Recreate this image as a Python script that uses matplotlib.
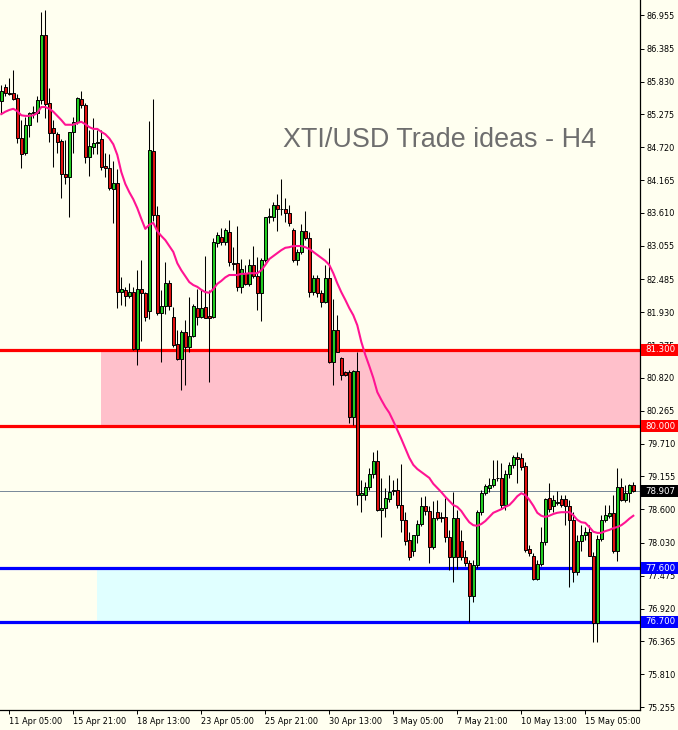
import matplotlib
matplotlib.use('Agg')
import matplotlib.pyplot as plt
from matplotlib.patches import Rectangle
import matplotlib.transforms as mtransforms

# ---- data (H4 candles) ----
opens = [85.50, 85.74, 85.64, 85.64, 85.55, 84.87, 84.62, 85.10, 85.30, 85.30,
         85.52, 86.62, 85.47, 85.04, 84.94, 84.83, 84.27, 84.21, 84.98, 85.15,
         85.54, 85.44, 84.55, 84.72, 84.79, 84.86, 84.40, 84.37, 84.02, 84.12,
         82.27, 82.31, 82.21, 82.27, 81.31, 82.33, 82.26, 81.95, 84.66, 83.57,
         81.92, 82.04, 82.42, 81.85, 81.39, 81.14, 81.60, 81.34, 81.53, 82.00,
         81.85, 82.02, 81.87, 81.85, 83.10, 83.20, 83.12, 83.29, 82.76, 82.76,
         82.36, 82.59, 82.41, 82.73, 82.54, 82.26, 82.81, 83.54, 83.54, 83.74,
         83.68, 83.68, 83.61, 83.32, 82.81, 82.95, 83.30, 83.19, 82.27, 82.51,
         82.26, 82.10, 82.51, 81.09, 81.63, 81.16, 80.92, 80.92, 80.16, 80.94,
         78.84, 78.84, 78.97, 79.20, 79.42, 78.59, 78.62, 78.77, 78.91, 78.92,
         78.67, 78.42, 78.08, 77.89, 78.16, 78.35, 78.66, 78.57, 77.96, 78.55,
         78.47, 78.47, 78.13, 77.79, 78.45, 78.06, 77.79, 77.69, 77.13, 77.66,
         78.55, 78.87, 78.96, 79.01, 79.13, 79.13, 78.67, 79.20, 79.35, 79.48,
         79.47, 79.33, 77.93, 77.81, 77.42, 77.67, 78.05, 78.79, 78.66, 78.71,
         78.77, 78.77, 78.66, 78.42, 77.54, 78.06, 78.16, 78.21, 77.81, 76.68,
         78.10, 78.42, 78.49, 78.54, 77.89, 78.97, 78.76, 78.87, 79.01]
highs = [85.78, 85.79, 85.89, 86.03, 85.62, 85.18, 85.23, 85.32, 85.42, 85.59,
         87.01, 87.04, 85.72, 85.18, 84.98, 84.86, 84.84, 84.98, 85.23, 85.57,
         85.67, 85.47, 85.01, 85.21, 85.01, 85.01, 84.62, 84.60, 84.48, 84.35,
         82.52, 82.36, 82.42, 82.36, 82.64, 82.81, 82.27, 85.16, 85.54, 83.73,
         82.31, 82.78, 82.47, 82.02, 81.63, 81.63, 81.80, 82.19, 82.07, 82.32,
         82.31, 82.88, 82.31, 83.19, 83.29, 83.35, 83.35, 83.49, 83.03, 83.39,
         82.83, 82.73, 82.83, 83.05, 82.86, 82.85, 83.54, 83.69, 83.79, 83.93,
         84.18, 83.86, 83.74, 83.35, 83.00, 83.42, 83.64, 83.29, 82.56, 82.56,
         82.31, 82.73, 83.02, 82.15, 81.88, 81.17, 80.94, 80.95, 80.95, 81.26,
         79.09, 79.06, 79.30, 79.57, 79.60, 79.13, 78.96, 79.18, 79.09, 79.13,
         79.36, 78.55, 78.21, 78.08, 78.42, 78.81, 78.83, 78.66, 78.74, 78.76,
         78.55, 78.79, 78.25, 78.89, 78.59, 78.25, 77.91, 77.74, 77.74, 78.59,
         78.92, 79.03, 79.13, 79.43, 79.43, 79.38, 79.26, 79.40, 79.52, 79.57,
         79.55, 79.40, 78.00, 77.86, 77.74, 78.30, 78.79, 79.04, 78.84, 78.91,
         78.84, 78.84, 78.76, 78.55, 78.16, 78.33, 78.30, 78.33, 77.88, 78.16,
         78.50, 78.67, 78.67, 78.84, 79.30, 79.13, 79.01, 79.03, 79.06]
lows = [85.30, 85.59, 85.61, 85.52, 84.79, 84.37, 84.59, 84.89, 85.21, 85.15,
        85.45, 85.21, 84.81, 84.39, 84.62, 83.86, 84.09, 83.54, 84.62, 85.11,
        85.38, 84.46, 84.23, 84.60, 84.60, 84.33, 84.21, 84.00, 83.44, 82.00,
        82.06, 82.03, 82.17, 81.29, 81.04, 81.44, 81.78, 81.81, 83.47, 81.88,
        81.09, 81.90, 81.97, 81.34, 81.12, 80.62, 80.70, 81.26, 81.51, 81.71,
        81.83, 81.83, 80.75, 81.83, 83.03, 83.07, 83.07, 82.71, 82.64, 82.29,
        82.26, 82.39, 82.37, 82.51, 81.97, 81.78, 82.78, 83.44, 83.47, 83.30,
        83.57, 83.46, 83.39, 82.78, 82.73, 82.91, 83.15, 82.19, 82.22, 82.19,
        82.02, 82.09, 81.07, 80.70, 81.26, 80.78, 80.85, 80.06, 80.02, 78.67,
        78.55, 78.76, 78.92, 79.13, 78.57, 78.13, 78.47, 78.72, 78.84, 78.62,
        78.21, 78.00, 77.74, 77.81, 78.03, 78.32, 78.50, 77.69, 77.93, 78.42,
        78.38, 78.05, 77.57, 77.37, 77.59, 77.74, 77.64, 76.69, 77.03, 77.61,
        78.50, 78.84, 78.89, 78.97, 79.08, 78.62, 78.59, 79.13, 79.30, 79.04,
        79.26, 77.88, 77.81, 77.40, 77.40, 77.64, 78.00, 78.55, 78.55, 78.67,
        78.64, 78.33, 77.29, 77.37, 77.49, 77.89, 78.08, 77.81, 76.36, 76.36,
        78.06, 78.38, 78.45, 77.86, 77.72, 78.74, 78.72, 78.72, 78.89]
closes = [85.67, 85.64, 85.62, 85.54, 84.87, 84.60, 85.10, 85.30, 85.32, 85.52,
          86.62, 85.45, 84.96, 84.96, 84.81, 84.27, 84.21, 84.98, 85.15, 85.55,
          85.44, 84.55, 84.74, 84.79, 84.81, 84.39, 84.37, 84.03, 84.12, 82.27,
          82.33, 82.21, 82.27, 81.31, 82.33, 82.26, 81.85, 84.67, 83.57, 81.92,
          82.04, 82.42, 82.04, 81.38, 81.14, 81.60, 81.34, 81.53, 82.04, 81.85,
          82.00, 81.83, 81.83, 83.12, 83.24, 83.12, 83.32, 82.78, 82.75, 82.36,
          82.66, 82.41, 82.73, 82.54, 82.26, 82.81, 83.54, 83.56, 83.74, 83.68,
          83.67, 83.61, 83.44, 82.81, 82.95, 83.30, 83.19, 82.27, 82.51, 82.26,
          82.10, 82.51, 81.09, 81.63, 81.26, 80.87, 80.87, 80.16, 80.94, 78.84,
          78.87, 78.97, 79.20, 79.42, 78.59, 78.62, 78.79, 78.89, 78.92, 78.67,
          78.42, 78.06, 77.79, 78.16, 78.35, 78.66, 78.57, 77.96, 78.45, 78.45,
          78.45, 78.13, 77.79, 78.45, 77.79, 77.79, 77.69, 77.13, 77.66, 78.55,
          78.87, 78.99, 79.01, 79.11, 79.12, 78.67, 79.20, 79.35, 79.48, 79.45,
          79.31, 77.91, 77.86, 77.42, 77.67, 78.05, 78.77, 78.60, 78.76, 78.72,
          78.67, 78.66, 78.42, 77.54, 78.06, 78.16, 78.21, 77.81, 76.68, 78.10,
          78.42, 78.50, 78.54, 77.89, 78.97, 78.76, 78.87, 79.01, 78.907]
moving_avg = [85.28, 85.32, 85.35, 85.37, 85.33, 85.26, 85.25, 85.25, 85.26, 85.30,
              85.40, 85.40, 85.37, 85.32, 85.25, 85.18, 85.10, 85.10, 85.10, 85.13,
              85.15, 85.11, 85.06, 85.03, 85.03, 84.98, 84.94, 84.87, 84.77, 84.59,
              84.30, 84.10, 83.96, 83.84, 83.69, 83.51, 83.34, 83.41, 83.44, 83.30,
              83.22, 83.15, 83.05, 82.95, 82.76, 82.64, 82.54, 82.44, 82.39, 82.36,
              82.31, 82.27, 82.26, 82.32, 82.41, 82.46, 82.52, 82.56, 82.56, 82.56,
              82.58, 82.58, 82.59, 82.59, 82.59, 82.64, 82.73, 82.83, 82.88, 82.93,
              82.98, 83.02, 83.03, 83.05, 83.05, 83.05, 83.03, 83.00, 82.95, 82.90,
              82.85, 82.80, 82.73, 82.59, 82.42, 82.27, 82.14, 82.00, 81.88, 81.71,
              81.43, 81.21, 81.02, 80.82, 80.58, 80.45, 80.33, 80.23, 80.09, 79.94,
              79.79, 79.63, 79.47, 79.35, 79.28, 79.23, 79.18, 79.13, 79.03, 78.96,
              78.89, 78.81, 78.74, 78.67, 78.64, 78.57, 78.47, 78.38, 78.33, 78.32,
              78.35, 78.40, 78.47, 78.54, 78.57, 78.60, 78.64, 78.67, 78.74, 78.82,
              78.87, 78.84, 78.76, 78.66, 78.54, 78.49, 78.47, 78.49, 78.52, 78.54,
              78.55, 78.55, 78.55, 78.50, 78.42, 78.38, 78.37, 78.30, 78.22, 78.20,
              78.20, 78.23, 78.25, 78.28, 78.30, 78.33, 78.38, 78.44, 78.49]

time_labels = ['11 Apr 05:00', '15 Apr 21:00', '18 Apr 13:00', '23 Apr 05:00',
               '25 Apr 21:00', '30 Apr 13:00', '3 May 05:00', '7 May 21:00',
               '10 May 13:00', '15 May 05:00']
time_label_bars = [2, 18, 34, 50, 66, 82, 98, 114, 130, 146]
price_ticks = [86.955, 86.385, 85.830, 85.275, 84.720, 84.165, 83.610, 83.055,
               82.485, 81.930, 81.375, 80.820, 80.265, 79.710, 79.155, 78.600,
               78.030, 77.475, 76.920, 76.365, 75.810, 75.255]
resistance_zone = (80.000, 81.300)
support_zone = (76.700, 77.600)
resistance_zone_start_bar = 24.9
support_zone_start_bar = 23.9
current_price = 78.907
title_text = 'XTI/USD Trade ideas - H4'

# ---- drawing ----
BG = '#FFFFF0'
fig = plt.figure(figsize=(6.78, 7.30), dpi=100)
fig.patch.set_facecolor(BG)
ax = fig.add_axes([0, 20 / 730, 640 / 678, 710 / 730])
ax.set_facecolor(BG)

n = len(opens)
xs = list(range(n))
x_lo, x_hi = -0.325, 159.675
y_lo, y_hi = 75.206, 87.209
ax.set_xlim(x_lo, x_hi)
ax.set_ylim(y_lo, y_hi)
px_per_price = 710 / (y_hi - y_lo)

# zones
ax.add_patch(Rectangle((resistance_zone_start_bar, resistance_zone[0]),
                       x_hi - resistance_zone_start_bar,
                       resistance_zone[1] - resistance_zone[0],
                       facecolor='#FFC0CB', edgecolor='none', zorder=1))
ax.add_patch(Rectangle((support_zone_start_bar, support_zone[0]),
                       x_hi - support_zone_start_bar,
                       support_zone[1] - support_zone[0],
                       facecolor='#E0FFFF', edgecolor='none', zorder=1))

for lvl in resistance_zone:
    ax.axhline(lvl, color='#FF0000', lw=2.3, zorder=2)
for lvl in support_zone:
    ax.axhline(lvl, color='#0000FF', lw=2.3, zorder=2)
ax.axhline(current_price, color='#778899', lw=0.7, zorder=2)

# candles
ax.vlines(xs, lows, highs, color='black', lw=0.75, zorder=3)
for i in range(n):
    o, c = opens[i], closes[i]
    bottom = min(o, c)
    h = max(abs(c - o), 0.006)
    col = '#22CC22' if c >= o else '#E01010'
    ax.bar(i, h, bottom=bottom, width=0.78, color=col, edgecolor='black',
           linewidth=0.7, zorder=4)

ax.plot(xs, moving_avg, color='#FF1493', lw=1.5, zorder=5)

# axes styling
for s in ['top', 'left']:
    ax.spines[s].set_visible(False)
for s in ['right', 'bottom']:
    ax.spines[s].set_color('black')
    ax.spines[s].set_linewidth(0.9)

ax.yaxis.tick_right()
ax.set_yticks(price_ticks)
ax.set_yticklabels([f'{v:.3f}' for v in price_ticks], fontsize=5.9,
                   family='DejaVu Sans')
ax.tick_params(axis='y', direction='out', length=3, width=0.7, pad=2,
               colors='black')
ax.set_xticks(time_label_bars)
ax.set_xticklabels(time_labels, fontsize=5.9, family='DejaVu Sans')
ax.tick_params(axis='x', direction='out', length=3, width=0.7, pad=2,
               colors='black')
for lab in ax.get_xticklabels():
    lab.set_horizontalalignment('left')

# price boxes on the right
trans = mtransforms.blended_transform_factory(ax.transAxes, ax.transData)
boxes = [(resistance_zone[1], '#FF0000'), (resistance_zone[0], '#FF0000'),
         (support_zone[1], '#0000FF'), (support_zone[0], '#0000FF'),
         (current_price, '#000000')]
box_h = 12 / px_per_price
for lvl, col in boxes:
    ax.add_patch(Rectangle((1.0 + 1 / 640, lvl - box_h / 2), 38 / 640, box_h,
                           transform=trans, facecolor=col, edgecolor='none',
                           zorder=9, clip_on=False))
    ax.text(1.0 + 20 / 640, lvl, f'{lvl:.3f}', transform=trans, color='white',
            fontsize=6.2, family='DejaVu Sans', va='center', ha='center',
            zorder=10, clip_on=False)

ax.text(283 / 640, 1 - 140 / 710, title_text, transform=ax.transAxes,
        fontsize=19.4, family='Liberation Sans', color='#6E6E6E',
        va='center', ha='left', zorder=6)

fig.savefig('out.png', dpi=100, facecolor=BG)
